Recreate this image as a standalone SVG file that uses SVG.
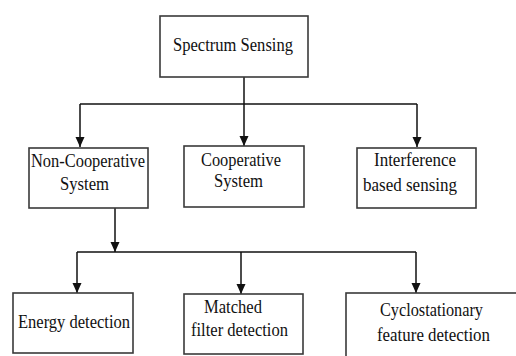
<svg xmlns="http://www.w3.org/2000/svg" width="516" height="356" viewBox="0 0 516 356">
<style>
.box{fill:#fff;stroke:#3a3a3a;stroke-width:1.6}
.ln{fill:none;stroke:#111;stroke-width:1.5}
.t{fill:#111}
</style>
<defs>
<marker id="ah" markerUnits="userSpaceOnUse" markerWidth="10" markerHeight="12" refX="10" refY="4.5" orient="auto">
<path d="M0,0 L10,4.5 L0,9 Z" fill="#111"/>
</marker>
</defs>
<rect width="516" height="356" fill="#fff"/>
<g id="connectors">
<path class="ln" d="M244 77 V146" marker-end="url(#ah)"/>
<path class="ln" d="M80 104 H417"/>
<path class="ln" d="M80 104 V147" marker-end="url(#ah)"/>
<path class="ln" d="M417 104 V147" marker-end="url(#ah)"/>
<path class="ln" d="M115 208 V252" marker-end="url(#ah)"/>
<path class="ln" d="M77 252 H416"/>
<path class="ln" d="M77 252 V293" marker-end="url(#ah)"/>
<path class="ln" d="M241 252 V294" marker-end="url(#ah)"/>
<path class="ln" d="M416 252 V293" marker-end="url(#ah)"/>
</g>
<g font-family="Liberation Serif, Times New Roman, serif" font-size="19" class="t">
<g id="spectrum-sensing">
<rect class="box" x="160" y="16" width="148" height="61"/>
<text x="173" y="51" textLength="120" lengthAdjust="spacingAndGlyphs">Spectrum Sensing</text>
</g>
<g id="non-cooperative">
<rect class="box" x="29" y="148" width="119" height="60"/>
<text x="31" y="167" textLength="114" lengthAdjust="spacingAndGlyphs">Non-Cooperative</text>
<text x="60" y="190" textLength="49" lengthAdjust="spacingAndGlyphs">System</text>
</g>
<g id="cooperative">
<rect class="box" x="184" y="146" width="120" height="61"/>
<text x="201" y="166" textLength="80" lengthAdjust="spacingAndGlyphs">Cooperative</text>
<text x="214" y="187" textLength="49" lengthAdjust="spacingAndGlyphs">System</text>
</g>
<g id="interference">
<rect class="box" x="357" y="148" width="119" height="60"/>
<text x="374" y="166" textLength="82" lengthAdjust="spacingAndGlyphs">Interference</text>
<text x="363" y="191" textLength="94" lengthAdjust="spacingAndGlyphs">based sensing</text>
</g>
<g id="energy-detection">
<rect class="box" x="13" y="293" width="120" height="60"/>
<text x="18" y="328" textLength="112" lengthAdjust="spacingAndGlyphs">Energy detection</text>
</g>
<g id="matched-filter">
<rect class="box" x="184" y="294" width="119" height="60"/>
<text x="204" y="313" textLength="58" lengthAdjust="spacingAndGlyphs">Matched</text>
<text x="191" y="336" textLength="97" lengthAdjust="spacingAndGlyphs">filter  detection</text>
</g>
<g id="cyclostationary">
<rect class="box" x="346" y="293" width="190" height="80"/>
<text x="380" y="316" textLength="103" lengthAdjust="spacingAndGlyphs">Cyclostationary</text>
<text x="377" y="341" textLength="113" lengthAdjust="spacingAndGlyphs">feature detection</text>
</g>
</g>
</svg>
